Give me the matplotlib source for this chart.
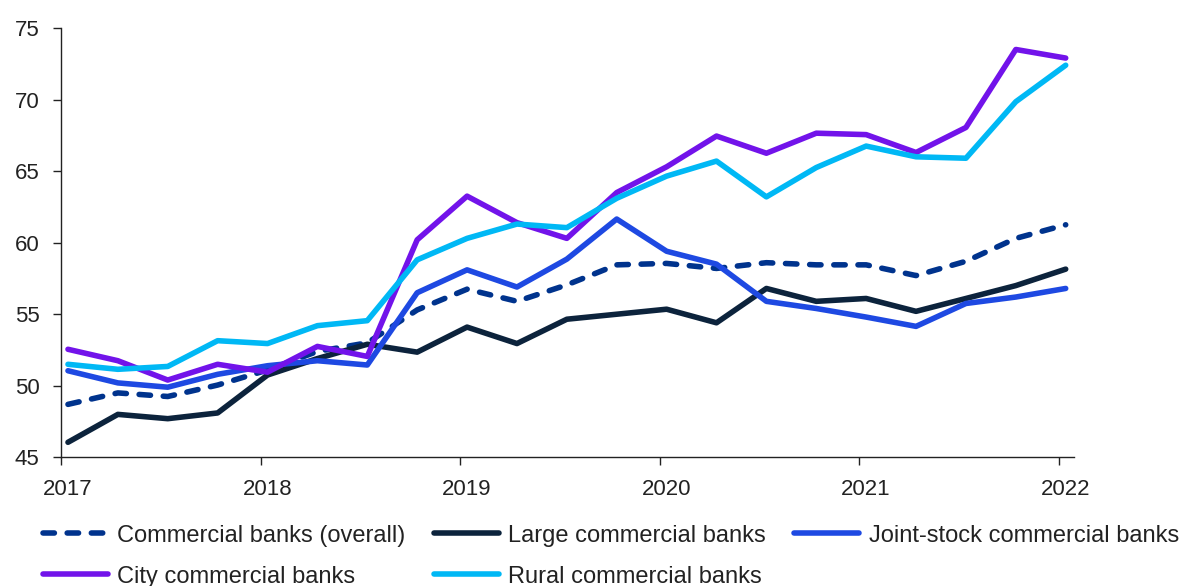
import matplotlib
matplotlib.use("Agg")
import matplotlib.pyplot as plt
import matplotlib.transforms as mtransforms
import numpy as np

plt.rcParams["font.family"] = ["Liberation Sans", "DejaVu Sans"]

# Quarterly observations, 2017Q1 .. 2022Q1
quarters = [f"{y}Q{q}" for y in range(2017, 2022) for q in range(1, 5)] + ["2022Q1"]

overall = [48.7, 49.5, 49.25, 50.05, 51.1, 52.4, 53.0, 55.3, 56.75, 55.9, 57.05,
           58.45, 58.55, 58.2, 58.6, 58.45, 58.45, 57.7, 58.7, 60.3, 61.25]
large = [46.05, 48.0, 47.7, 48.1, 50.75, 51.9, 52.9, 52.35, 54.1, 52.95, 54.65,
         55.0, 55.35, 54.4, 56.8, 55.9, 56.1, 55.2, 56.1, 57.0, 58.15]
joint_stock = [51.05, 50.2, 49.9, 50.8, 51.4, 51.75, 51.45, 56.5, 58.1, 56.9, 58.85,
               61.65, 59.4, 58.5, 55.9, 55.4, 54.8, 54.15, 55.75, 56.2, 56.8]
city = [52.55, 51.75, 50.4, 51.5, 50.95, 52.75, 52.05, 60.2, 63.25, 61.4, 60.3,
        63.5, 65.3, 67.45, 66.25, 67.65, 67.55, 66.3, 68.05, 73.5, 72.9]
rural = [51.5, 51.15, 51.35, 53.15, 52.95, 54.2, 54.55, 58.8, 60.3, 61.3, 61.05,
         63.1, 64.65, 65.7, 63.2, 65.25, 66.75, 66.0, 65.9, 69.85, 72.4]

year_ticks = [2017, 2018, 2019, 2020, 2021, 2022]
y_ticks = [45, 50, 55, 60, 65, 70, 75]

# Observations sit roughly two weeks into each quarter on a fractional-year axis
obs_offset = 0.035
x = np.array([int(q[:4]) + (int(q[-1]) - 1) * 0.25 + obs_offset for q in quarters])

series = {
    "overall": ("Commercial banks (overall)", overall, "#00338D", "dashed"),
    "large": ("Large commercial banks", large, "#0C233C", "solid"),
    "joint": ("Joint-stock commercial banks", joint_stock, "#1E49E2", "solid"),
    "city": ("City commercial banks", city, "#7213EA", "solid"),
    "rural": ("Rural commercial banks", rural, "#00B8F5", "solid"),
}

fig = plt.figure(figsize=(12.03, 5.86), dpi=100)
ax = fig.add_axes([0.0507, 0.2196, 0.8423, 0.7326])

lw = 4.0
lines = {}
for key, (label, vals, color, style) in series.items():
    if style == "dashed":
        (ln,) = ax.plot(x, vals, color=color, lw=lw, dashes=(2.05, 2.3),
                        dash_capstyle="round", dash_joinstyle="round", label=label)
    else:
        (ln,) = ax.plot(x, vals, color=color, lw=lw, solid_capstyle="round",
                        solid_joinstyle="round", label=label)
    lines[key] = ln

ax.set_xlim(2017, 2022.078)
ax.set_ylim(45, 75)
ax.set_xticks(year_ticks)
ax.set_xticklabels([str(t) for t in year_ticks])
ax.set_yticks(y_ticks)

for s in ("top", "right"):
    ax.spines[s].set_visible(False)
for s in ("left", "bottom"):
    ax.spines[s].set_color("#222222")
    ax.spines[s].set_linewidth(1.0)

ax.tick_params(axis="both", direction="out", length=5.5, width=1.0,
               color="#222222", labelsize=16, labelcolor="#222222")
ax.tick_params(axis="x", pad=10)
ax.tick_params(axis="y", pad=10)

# Year labels sit slightly right of their tick marks
shift = mtransforms.ScaledTranslation(7 / 100, 0, fig.dpi_scale_trans)
for lab in ax.get_xticklabels():
    lab.set_transform(lab.get_transform() + shift)

# Legend filled column-wise, ordered so rows read overall/large/joint, city/rural
order = ["overall", "city", "large", "rural", "joint"]
leg = fig.legend(handles=[lines[k] for k in order], loc="lower left",
                 bbox_to_anchor=(0.022, -0.031), ncol=3, frameon=False,
                 fontsize=17, handlelength=2.75, handletextpad=0.4,
                 columnspacing=1.2, labelspacing=0.8, borderpad=0.2)
for t in leg.get_texts():
    t.set_color("#222222")

fig.savefig("out.png", dpi=100)
